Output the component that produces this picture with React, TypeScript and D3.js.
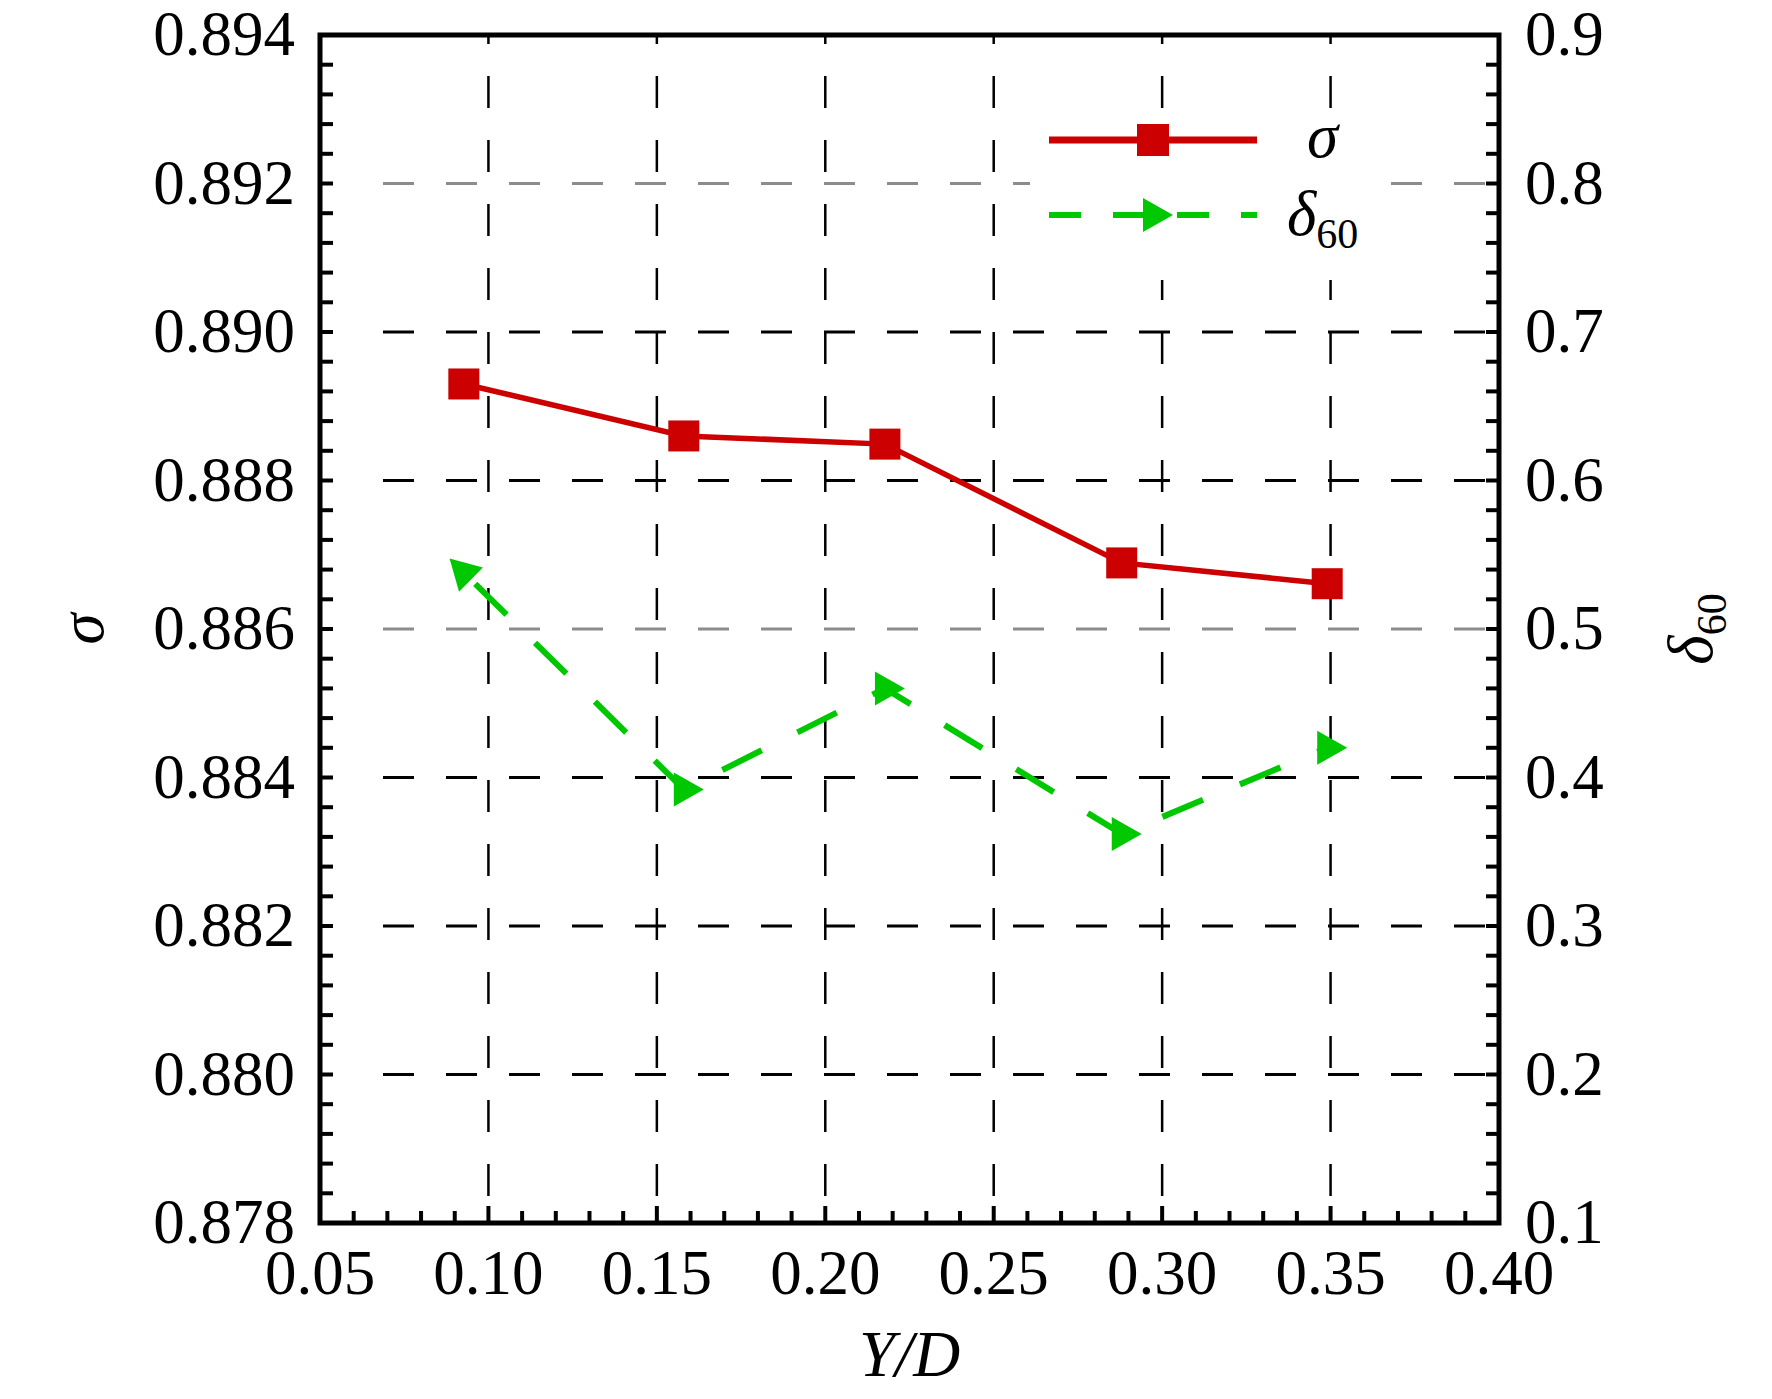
import React from 'react';
import * as d3 from 'd3';

// values
const yOverD = [0.0927, 0.158, 0.2177, 0.288, 0.349];
const sigmaValues = [0.8893, 0.8886, 0.88849, 0.88689, 0.88661];
const delta60Values = [0.538, 0.392, 0.46, 0.362, 0.42];

const xTicks = [0.05, 0.1, 0.15, 0.2, 0.25, 0.3, 0.35, 0.4];
const sigmaTicks = [0.878, 0.88, 0.882, 0.884, 0.886, 0.888, 0.89, 0.892, 0.894];
const deltaTicks = [0.1, 0.2, 0.3, 0.4, 0.5, 0.6, 0.7, 0.8, 0.9];
const grayGrid = [0.886, 0.892];

const W = 1772;
const H = 1399;
const margin = { top: 35, right: 273, bottom: 176, left: 320 };
const FONT = '"Liberation Serif", "Times New Roman", serif';
const RED = '#cc0000';
const GREEN = '#00c800';

const minors = (ticks: number[], n: number) =>
  d3.pairs(ticks).flatMap(([a, b]) => d3.range(1, n).map(i => a + ((b - a) * i) / n));

const triangle = 'M 20,0 L -10,-17 L -10,17 Z';

export default function App() {
  const innerW = W - margin.left - margin.right;
  const innerH = H - margin.top - margin.bottom;
  const left = margin.left;
  const right = margin.left + innerW;
  const top = margin.top;
  const bottom = margin.top + innerH;

  const x = d3.scaleLinear().domain([0.05, 0.4]).range([left, right]);
  const yS = d3.scaleLinear().domain([0.878, 0.894]).range([bottom, top]);
  const yD = d3.scaleLinear().domain([0.1, 0.9]).range([bottom, top]);

  const sigmaPts = yOverD.map((v, i) => [x(v), yS(sigmaValues[i])] as [number, number]);
  const deltaPts = yOverD.map((v, i) => [x(v), yD(delta60Values[i])] as [number, number]);
  const line = d3.line();

  // first arrow points back along the first segment
  const firstAngle =
    (Math.atan2(deltaPts[0][1] - deltaPts[1][1], deltaPts[0][0] - deltaPts[1][0]) * 180) / Math.PI;

  const xMinor = minors(xTicks, 5);
  const yMinor = minors(sigmaTicks, 5);

  return (
    <svg
      width={W}
      height={H}
      style={{ position: 'absolute', left: 0, top: 0, background: '#fff' }}
      fontFamily={FONT}
    >
      <rect width={W} height={H} fill="#fff" />

      {/* grid */}
      {sigmaTicks.slice(1, -1).map(t => (
        <line
          key={`h${t}`}
          x1={left + 63}
          x2={right - 8}
          y1={yS(t)}
          y2={yS(t)}
          stroke={grayGrid.includes(t) ? '#8c8c8c' : '#000'}
          strokeWidth={3}
          strokeDasharray="31 32"
        />
      ))}
      {xTicks.slice(1, -1).map(t => (
        <line
          key={`v${t}`}
          x1={x(t)}
          x2={x(t)}
          y1={top}
          y2={bottom}
          stroke="#000"
          strokeWidth={2.5}
          strokeDasharray="32 32"
          strokeDashoffset={23}
        />
      ))}

      {/* legend box */}
      <rect x={1030} y={113} width={335} height={167} fill="#fff" />

      {/* sigma series */}
      <path d={line(sigmaPts) ?? ''} fill="none" stroke={RED} strokeWidth={5.5} />
      {sigmaPts.map(([px, py], i) => (
        <rect key={`s${i}`} x={px - 15.5} y={py - 15.5} width={31} height={31} fill={RED} />
      ))}

      {/* delta60 series */}
      <path
        d={line(deltaPts) ?? ''}
        fill="none"
        stroke={GREEN}
        strokeWidth={6}
        strokeDasharray="44 40"
        strokeDashoffset={-16}
      />
      {deltaPts.map(([px, py], i) => (
        <path
          key={`d${i}`}
          d={triangle}
          fill={GREEN}
          transform={`translate(${px},${py}) rotate(${i === 0 ? firstAngle : 0})`}
        />
      ))}

      {/* frame */}
      <rect x={left} y={top} width={innerW} height={innerH} fill="none" stroke="#000" strokeWidth={5} />

      {/* ticks */}
      {xTicks.map(t => (
        <line key={`xt${t}`} x1={x(t)} x2={x(t)} y1={bottom} y2={bottom - 17} stroke="#000" strokeWidth={4} />
      ))}
      {xMinor.map(t => (
        <line key={`xm${t}`} x1={x(t)} x2={x(t)} y1={bottom} y2={bottom - 12} stroke="#000" strokeWidth={4} />
      ))}
      {[...sigmaTicks, ...yMinor].map(t => (
        <g key={`yt${t}`}>
          <line x1={left} x2={left + 13} y1={yS(t)} y2={yS(t)} stroke="#000" strokeWidth={4} />
          <line x1={right} x2={right - 13} y1={yS(t)} y2={yS(t)} stroke="#000" strokeWidth={4} />
        </g>
      ))}

      {/* tick labels */}
      {xTicks.map(t => (
        <text key={`xl${t}`} x={x(t)} y={bottom + 71} fontSize={63} textAnchor="middle">
          {t.toFixed(2)}
        </text>
      ))}
      {sigmaTicks.map(t => (
        <text key={`sl${t}`} x={left - 25} y={yS(t) + 20} fontSize={63} textAnchor="end">
          {t.toFixed(3)}
        </text>
      ))}
      {deltaTicks.map(t => (
        <text key={`dl${t}`} x={right + 26} y={yD(t) + 20} fontSize={63}>
          {t.toFixed(1)}
        </text>
      ))}

      {/* axis titles */}
      <text x={(left + right) / 2} y={bottom + 153} fontSize={65} fontStyle="italic" textAnchor="middle">
        Y/D
      </text>
      <text
        transform={`translate(103,${(top + bottom) / 2}) rotate(-90)`}
        fontSize={63}
        fontStyle="italic"
        textAnchor="middle"
      >
        σ
      </text>
      <text
        transform={`translate(1712,${(top + bottom) / 2}) rotate(-90)`}
        fontSize={63}
        textAnchor="middle"
      >
        <tspan fontStyle="italic">δ</tspan>
        <tspan fontSize={42} dy={14}>60</tspan>
      </text>

      {/* legend */}
      <line x1={1049} x2={1257} y1={140} y2={140} stroke={RED} strokeWidth={7} />
      <rect x={1153 - 16} y={140 - 16} width={32} height={32} fill={RED} />
      <text x={1307} y={157} fontSize={63} fontStyle="italic">σ</text>

      <line x1={1049} x2={1257} y1={215} y2={215} stroke={GREEN} strokeWidth={6} strokeDasharray="32 32" />
      <path d={triangle} fill={GREEN} transform="translate(1153,215)" />
      <text x={1287} y={235} fontSize={63}>
        <tspan fontStyle="italic">δ</tspan>
        <tspan fontSize={42} dy={13}>60</tspan>
      </text>
    </svg>
  );
}
